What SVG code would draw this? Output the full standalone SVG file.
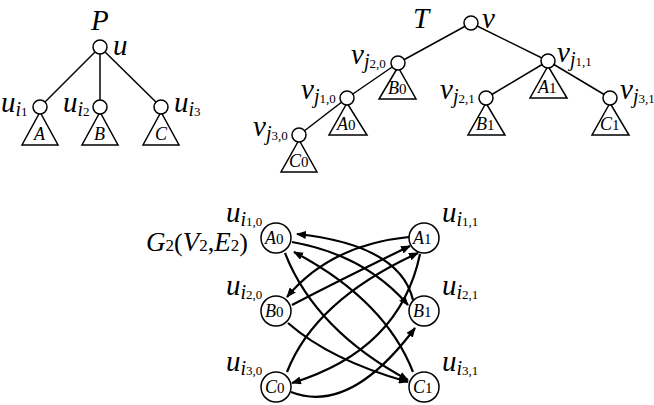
<svg xmlns="http://www.w3.org/2000/svg" width="654" height="405" viewBox="0 0 654 405">
<style>
text{font-family:"Liberation Serif",serif;fill:#000}
.v{font-style:italic;font-size:29px}
.s{font-style:italic;font-size:20px}
.n{font-style:normal;font-size:13px}
.t{font-style:italic;font-size:18px}
.d{font-style:normal;font-size:15px}
.e{fill:none;stroke:#000;stroke-width:2.2}
.c{fill:#fff;stroke:#000;stroke-width:1.5}
.tr{fill:#fff;stroke:#000;stroke-width:1.5}
.l{stroke:#000;stroke-width:1.5}
</style>
<defs>
<marker id="ah" markerWidth="10" markerHeight="8" refX="9" refY="4" orient="auto" markerUnits="userSpaceOnUse"><path d="M0,0 L10,4 L0,8 z" fill="#000"/></marker>
</defs>

<g id="treeP-edges">
<line class="l" x1="100" y1="47" x2="40" y2="107"/>
<line class="l" x1="100" y1="47" x2="100" y2="107"/>
<line class="l" x1="100" y1="47" x2="161" y2="107"/>
</g>
<g id="P-label"><text class="v" x="91" y="30">P</text></g>
<g id="P-u"><circle class="c" cx="100" cy="47" r="7"/><text class="v" x="113" y="55">u</text></g>
<g id="P-ui1"><polygon class="tr" points="40,112 22,145 58,145"/><circle class="c" cx="40" cy="107" r="7"/><text x="1" y="112"><tspan class="v">u</tspan><tspan class="s" dy="4">i</tspan><tspan class="n">1</tspan></text><text class="t" x="34" y="140">A</text></g>
<g id="P-ui2"><polygon class="tr" points="100,112 82,145 118,145"/><circle class="c" cx="100" cy="107" r="7"/><text x="63" y="112"><tspan class="v">u</tspan><tspan class="s" dy="4">i</tspan><tspan class="n">2</tspan></text><text class="t" x="94" y="140">B</text></g>
<g id="P-ui3"><polygon class="tr" points="161,112 143,145 179,145"/><circle class="c" cx="161" cy="107" r="7"/><text x="174" y="112"><tspan class="v">u</tspan><tspan class="s" dy="4">i</tspan><tspan class="n">3</tspan></text><text class="t" x="155" y="140">C</text></g>

<g id="treeT-edges">
<line class="l" x1="471" y1="23" x2="398" y2="63"/>
<line class="l" x1="471" y1="23" x2="548" y2="61"/>
<line class="l" x1="398" y1="63" x2="347" y2="98"/>
<line class="l" x1="347" y1="98" x2="299" y2="135"/>
<line class="l" x1="548" y1="61" x2="486" y2="98"/>
<line class="l" x1="548" y1="61" x2="610" y2="98"/>
</g>
<g id="T-label"><text class="v" x="413" y="28">T</text></g>
<g id="T-v"><circle class="c" cx="471" cy="23" r="7"/><text class="v" x="482" y="28">v</text></g>
<g id="T-vj20"><polygon class="tr" points="398,67 379,99 416,99"/><circle class="c" cx="398" cy="63" r="7"/><text x="351" y="64"><tspan class="v">v</tspan><tspan class="s" dy="4">j</tspan><tspan class="n">2,0</tspan></text><text x="388" y="94"><tspan class="t">B</tspan><tspan class="d">0</tspan></text></g>
<g id="T-vj11"><polygon class="tr" points="548,66 530,98 567,98"/><circle class="c" cx="548" cy="61" r="7"/><text x="557" y="62"><tspan class="v">v</tspan><tspan class="s" dy="4">j</tspan><tspan class="n">1,1</tspan></text><text x="538" y="93"><tspan class="t">A</tspan><tspan class="d">1</tspan></text></g>
<g id="T-vj10"><polygon class="tr" points="347,103 329,135 367,135"/><circle class="c" cx="347" cy="98" r="7"/><text x="301" y="99"><tspan class="v">v</tspan><tspan class="s" dy="4">j</tspan><tspan class="n">1,0</tspan></text><text x="337" y="130"><tspan class="t">A</tspan><tspan class="d">0</tspan></text></g>
<g id="T-vj30"><polygon class="tr" points="299,140 281,172 317,172"/><circle class="c" cx="299" cy="135" r="7"/><text x="253" y="136"><tspan class="v">v</tspan><tspan class="s" dy="4">j</tspan><tspan class="n">3,0</tspan></text><text x="289" y="167"><tspan class="t">C</tspan><tspan class="d">0</tspan></text></g>
<g id="T-vj21"><polygon class="tr" points="486,103 468,135 505,135"/><circle class="c" cx="486" cy="98" r="7"/><text x="440" y="99"><tspan class="v">v</tspan><tspan class="s" dy="4">j</tspan><tspan class="n">2,1</tspan></text><text x="476" y="130"><tspan class="t">B</tspan><tspan class="d">1</tspan></text></g>
<g id="T-vj31"><polygon class="tr" points="610,103 592,135 629,135"/><circle class="c" cx="610" cy="98" r="7"/><text x="620" y="99"><tspan class="v">v</tspan><tspan class="s" dy="4">j</tspan><tspan class="n">3,1</tspan></text><text x="600" y="130"><tspan class="t">C</tspan><tspan class="d">1</tspan></text></g>

<g id="G2-label"><text x="146" y="251"><tspan class="v" style="font-size:27px">G</tspan><tspan style="font-size:17px">2</tspan><tspan style="font-size:26px">(</tspan><tspan class="v" style="font-size:27px">V</tspan><tspan style="font-size:17px">2</tspan><tspan style="font-size:26px">,</tspan><tspan class="v" style="font-size:27px">E</tspan><tspan style="font-size:17px">2</tspan><tspan style="font-size:26px">)</tspan></text></g>

<g id="connectors">
<path class="e" marker-end="url(#ah)" d="M413,300 Q400,245 297,234"/>
<path class="e" marker-end="url(#ah)" d="M413,372 Q385,300 294,252"/>
<path class="e" marker-end="url(#ah)" d="M292,242 Q365,255 408,305"/>
<path class="e" marker-end="url(#ah)" d="M285,253 Q315,330 408,380"/>
<path class="e" marker-end="url(#ah)" d="M409,237 Q330,245 287,297"/>
<path class="e" marker-end="url(#ah)" d="M292,305 Q340,280 410,246"/>
<path class="e" marker-end="url(#ah)" d="M287,372 Q315,300 418,253"/>
<path class="e" marker-end="url(#ah)" d="M420,254 Q400,350 292,383"/>
<path class="e" marker-end="url(#ah)" d="M288,323 Q330,360 408,382"/>
<path class="e" marker-end="url(#ah)" d="M291,392 Q350,415 415,328"/>
</g>

<g id="A0"><circle class="c" cx="276" cy="238" r="15"/><text x="265" y="244"><tspan class="t">A</tspan><tspan class="d">0</tspan></text><text x="226" y="222"><tspan class="v">u</tspan><tspan class="s" dy="4">i</tspan><tspan class="n">1,0</tspan></text></g>
<g id="A1"><circle class="c" cx="424" cy="238" r="15"/><text x="413" y="244"><tspan class="t">A</tspan><tspan class="d">1</tspan></text><text x="442" y="222"><tspan class="v">u</tspan><tspan class="s" dy="4">i</tspan><tspan class="n">1,1</tspan></text></g>
<g id="B0"><circle class="c" cx="276" cy="311" r="15"/><text x="265" y="317"><tspan class="t">B</tspan><tspan class="d">0</tspan></text><text x="226" y="295"><tspan class="v">u</tspan><tspan class="s" dy="4">i</tspan><tspan class="n">2,0</tspan></text></g>
<g id="B1"><circle class="c" cx="424" cy="311" r="15"/><text x="413" y="317"><tspan class="t">B</tspan><tspan class="d">1</tspan></text><text x="442" y="295"><tspan class="v">u</tspan><tspan class="s" dy="4">i</tspan><tspan class="n">2,1</tspan></text></g>
<g id="C0"><circle class="c" cx="276" cy="387" r="15"/><text x="265" y="393"><tspan class="t">C</tspan><tspan class="d">0</tspan></text><text x="226" y="371"><tspan class="v">u</tspan><tspan class="s" dy="4">i</tspan><tspan class="n">3,0</tspan></text></g>
<g id="C1"><circle class="c" cx="424" cy="387" r="15"/><text x="413" y="393"><tspan class="t">C</tspan><tspan class="d">1</tspan></text><text x="442" y="371"><tspan class="v">u</tspan><tspan class="s" dy="4">i</tspan><tspan class="n">3,1</tspan></text></g>
</svg>
